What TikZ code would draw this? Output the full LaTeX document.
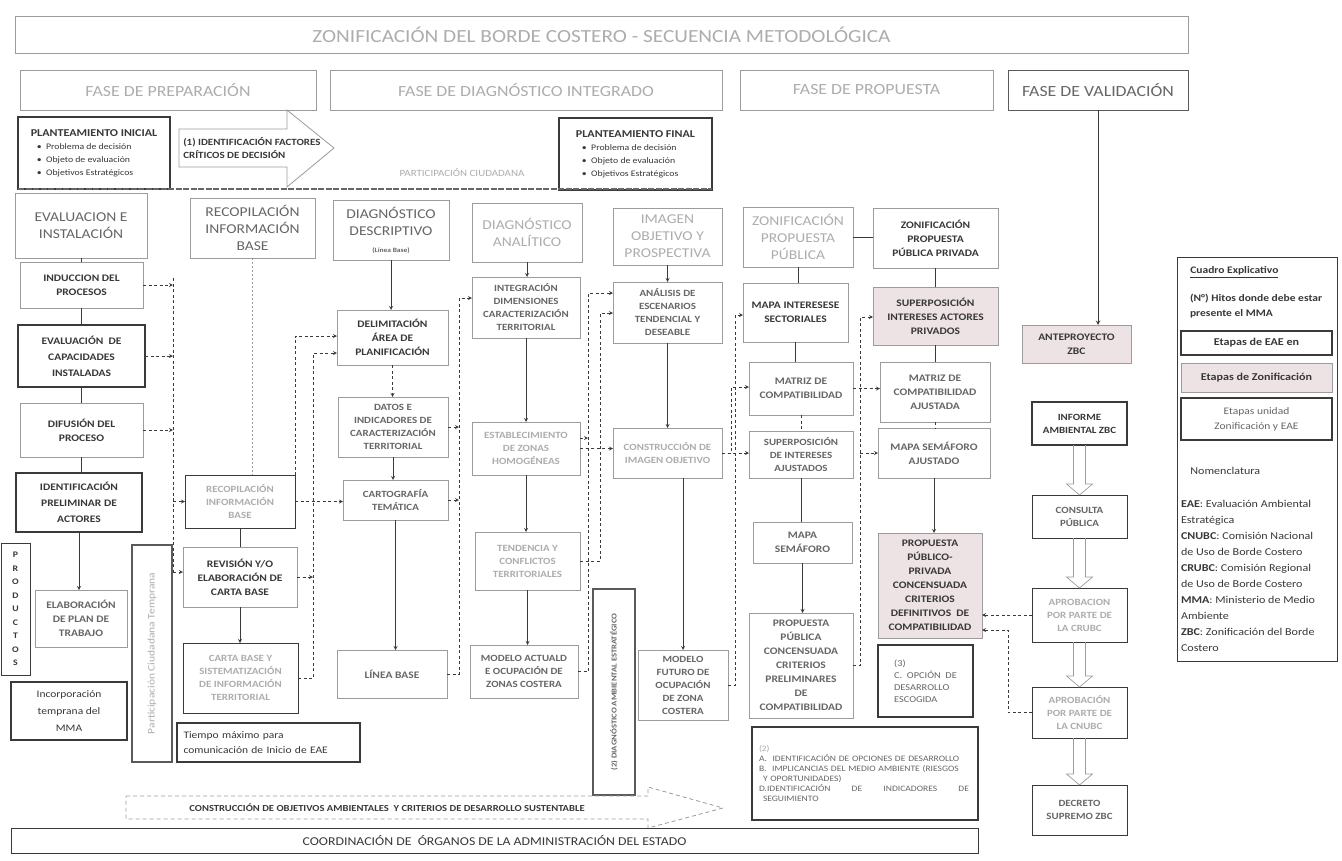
\documentclass[tikz,border=0pt]{standalone}
\usepackage{fontspec}
\setmainfont{Carlito}[FakeStretch=1.15]
\usepackage{tikz}
\usetikzlibrary{arrows, positioning, calc}

\definecolor{linegray}{HTML}{9C9C9C}
\definecolor{midline}{HTML}{5A5A5A}
\definecolor{darkline}{HTML}{3A3A3A}
\definecolor{txtdark}{HTML}{383838}
\definecolor{txtmid}{HTML}{666666}
\definecolor{txtlight}{HTML}{ADADAD}
\definecolor{zonpink}{HTML}{EDE3E5}

\newcommand{\bxfont}{\fontsize{10}{14}\selectfont\bfseries}
\newcommand{\smbxfont}{\fontsize{9.5}{13}\selectfont\bfseries}
\newcommand{\hdfont}{\fontsize{13.5}{17}\selectfont}
\newcommand{\ttlfont}{\fontsize{18.5}{22}\selectfont}
\newcommand{\phfont}{\fontsize{15.5}{18}\selectfont}
\newcommand{\lgfont}{\fontsize{10.5}{16}\selectfont}

\begin{document}
\begin{tikzpicture}[x=1pt, y=-1pt, node distance=1pt, outer sep=0pt]

\tikzstyle{box}=[rectangle,draw=linegray,line width=0.6pt,anchor=north west,align=center,inner sep=2pt,text=txtdark,font=\bxfont]
\tikzstyle{eaebox}=[box,draw=darkline,line width=1.1pt]
\tikzstyle{zonbox}=[box,fill=zonpink]
\tikzstyle{headbox}=[box,font=\hdfont,text=txtmid]
\tikzstyle{phasebox}=[box,font=\phfont,text=txtlight,minimum height=40pt]
\tikzstyle{link}=[draw=darkline,line width=0.8pt]
\tikzstyle{arr}=[link,->,>=stealth]
\tikzstyle{dashlink}=[link,dash pattern=on 3pt off 2.5pt]
\tikzstyle{dasharr}=[dashlink,->,>=stealth]
\tikzstyle{hollow}=[draw=linegray,line width=0.7pt]

\fill[white] (0,0) rectangle (1342,860);
\useasboundingbox (0,0) rectangle (1342,860);

% title and phases
\node[box,minimum width=1173pt,minimum height=37pt,font=\ttlfont,text=txtlight] (title) at (15,16) {ZONIFICACIÓN DEL BORDE COSTERO - SECUENCIA METODOLÓGICA};
\node[phasebox,minimum width=296pt] (fprep) at (20,70) {FASE DE PREPARACIÓN};
\node[phasebox,minimum width=392pt] (fdiag) at (330,70) {FASE DE DIAGNÓSTICO INTEGRADO};
\node[phasebox,minimum width=253pt] (fprop) at (740,70) {FASE DE PROPUESTA};
\node[phasebox,minimum width=180pt,draw=midline,line width=1pt,text=txtmid] (fval) at (1008,70) {FASE DE VALIDACIÓN};

% planteamientos
\node[eaebox,align=left,minimum width=152pt,minimum height=72pt,font=\fontsize{8.5}{13}\selectfont] (pini) at (18,117) {{\bfseries\fontsize{10.5}{13}\selectfont PLANTEAMIENTO INICIAL}\\\hspace*{6pt}\textbullet\ \ Problema de decisión\\\hspace*{6pt}\textbullet\ \ Objeto de evaluación\\\hspace*{6pt}\textbullet\ \ Objetivos Estratégicos};
\node[eaebox,align=left,minimum width=153pt,minimum height=72pt,font=\fontsize{8.5}{13}\selectfont] (pfin) at (559,118) {{\bfseries\fontsize{10.5}{13}\selectfont PLANTEAMIENTO FINAL}\\\hspace*{6pt}\textbullet\ \ Problema de decisión\\\hspace*{6pt}\textbullet\ \ Objeto de evaluación\\\hspace*{6pt}\textbullet\ \ Objetivos Estratégicos};
\draw[draw=linegray,line width=0.8pt,fill=white] (179,129) -- (287,129) -- (287,110) -- (334,148) -- (287,187) -- (287,167) -- (179,167) -- cycle;
\node[anchor=west,align=left,font=\fontsize{9.5}{13}\selectfont\bfseries,text=txtdark] (ident) at (180,148) {(1) IDENTIFICACIÓN FACTORES\\CRÍTICOS DE DECISIÓN};
\node[font=\fontsize{9.5}{12}\selectfont,text=txtlight] (partic) at (462,173) {PARTICIPACIÓN CIUDADANA};
\draw[draw=txtmid,line width=1.2pt,dash pattern=on 6pt off 1.5pt] (pini.south west) -- (pini.south west -| pfin.east);

% evaluacion e instalacion
\node[headbox,minimum width=132pt,minimum height=65pt] (evalinst) at (15,193) {EVALUACION E\\INSTALACIÓN};
\node[box,minimum width=123pt,minimum height=46pt] (induc) at (20,262) {INDUCCION DEL\\PROCESOS};
\node[eaebox,minimum width=127pt,minimum height=62pt,font=\fontsize{10}{16}\selectfont\bfseries] (capac) at (18,325) {EVALUACIÓN\ \ DE\\CAPACIDADES\\INSTALADAS};
\node[box,minimum width=123pt,minimum height=54pt] (difus) at (20,403) {DIFUSIÓN DEL\\PROCESO};
\node[eaebox,minimum width=126pt,minimum height=59pt,font=\fontsize{10}{16}\selectfont\bfseries] (actores) at (16,473) {IDENTIFICACIÓN\\PRELIMINAR DE\\ACTORES};
\node[box,minimum width=92pt,minimum height=57pt,text=txtmid] (plan) at (35,590) {ELABORACIÓN\\DE PLAN DE\\TRABAJO};
\node[eaebox,line width=0.9pt,minimum width=29pt,minimum height=132pt,font=\fontsize{8.5}{13.5}\selectfont\bfseries] (produc) at (1,543) {P\\R\\O\\D\\U\\C\\T\\O\\S};
\node[eaebox,minimum width=116pt,minimum height=58pt,font=\fontsize{10}{17}\selectfont] (mma) at (11,682) {Incorporación\\temprana del\\MMA};
\node[eaebox,draw=midline,line width=1.6pt,minimum width=40pt,minimum height=217pt] (pct) at (132,545) {};
\node[rotate=90,font=\fontsize{10}{12}\selectfont,text=txtlight] (pcttext) at (pct.center) {Participación Ciudadana Temprana};

% recopilacion
\node[headbox,minimum width=125pt,minimum height=60pt] (recop1) at (190,198) {RECOPILACIÓN\\INFORMACIÓN\\BASE};
\node[eaebox,line width=0.9pt,minimum width=110pt,minimum height=53pt,text=txtlight,font=\smbxfont] (recop2) at (185,475) {RECOPILACIÓN\\INFORMACIÓN\\BASE};
\node[box,minimum width=114pt,minimum height=60pt] (revision) at (183,547) {REVISIÓN Y/O\\ELABORACIÓN DE\\CARTA BASE};
\node[eaebox,line width=0.9pt,minimum width=115pt,minimum height=70pt,text=txtlight,font=\smbxfont] (cartab) at (183,643) {CARTA BASE Y\\SISTEMATIZACIÓN\\DE INFORMACIÓN\\TERRITORIAL};
\node[eaebox,align=left,text width=170pt,minimum width=183pt,minimum height=39pt,font=\fontsize{10}{15}\selectfont] (tiempo) at (177,723) {Tiempo máximo para\\comunicación de Inicio de EAE};

% diagnostico descriptivo
\node[headbox,minimum width=116pt,minimum height=60pt] (descrip) at (333,200) {DIAGNÓSTICO\\DESCRIPTIVO\\{\bfseries\fontsize{6.5}{8}\selectfont (Línea Base)}};
\node[box,minimum width=111pt,minimum height=55pt] (delim) at (337,310) {DELIMITACIÓN\\ÁREA DE\\PLANIFICACIÓN};
\node[box,minimum width=110pt,minimum height=60pt,text=txtmid,font=\smbxfont] (datos) at (338,397) {DATOS E\\INDICADORES DE\\CARACTERIZACIÓN\\TERRITORIAL};
\node[box,minimum width=105pt,minimum height=40pt,text=txtmid,font=\smbxfont] (carto) at (343,480) {CARTOGRAFÍA\\TEMÁTICA};
\node[box,minimum width=110pt,minimum height=48pt,text=txtmid] (lbase) at (337,650) {LÍNEA BASE};

% diagnostico analitico
\node[headbox,minimum width=110pt,minimum height=59pt,text=txtlight] (analit) at (472,203) {DIAGNÓSTICO\\ANALÍTICO};
\node[box,minimum width=108pt,minimum height=61pt,text=txtmid,font=\smbxfont] (integ) at (472,277) {INTEGRACIÓN\\DIMENSIONES\\CARACTERIZACIÓN\\TERRITORIAL};
\node[box,minimum width=108pt,minimum height=53pt,text=txtlight,font=\smbxfont] (estab) at (472,422) {ESTABLECIMIENTO\\DE ZONAS\\HOMOGÉNEAS};
\node[box,minimum width=105pt,minimum height=58pt,text=txtlight,font=\smbxfont] (tend) at (475,532) {TENDENCIA Y\\CONFLICTOS\\TERRITORIALES};
\node[box,minimum width=108pt,minimum height=53pt,text=txtmid,font=\smbxfont] (mact) at (470,645) {MODELO ACTUALD\\E OCUPACIÓN DE\\ZONAS COSTERA};

% imagen objetivo
\node[headbox,minimum width=109pt,minimum height=57pt,text=txtlight] (imagen) at (613,208) {IMAGEN\\OBJETIVO Y\\PROSPECTIVA};
\node[box,minimum width=109pt,minimum height=61pt,text=txtmid,font=\smbxfont] (anal) at (613,282) {ANÁLISIS DE\\ESCENARIOS\\TENDENCIAL Y\\DESEABLE};
\node[box,minimum width=109pt,minimum height=50pt,text=txtlight,font=\smbxfont] (constr) at (613,428) {CONSTRUCCIÓN DE\\IMAGEN OBJETIVO};
\node[box,minimum width=90pt,minimum height=70pt,text=txtmid,font=\smbxfont] (mfut) at (638,650) {MODELO\\FUTURO DE\\OCUPACIÓN\\DE ZONA\\COSTERA};
\node[eaebox,draw=midline,line width=1.6pt,minimum width=42pt,minimum height=206pt] (dae) at (593,589) {};
\node[rotate=90,font=\fontsize{7.5}{10}\selectfont\bfseries,text=txtmid] (daetext) at (dae.center) {(2) DIAGNÓSTICO AMBIENTAL ESTRATÉGICO};

% zonificacion propuesta publica
\node[headbox,minimum width=110pt,minimum height=60pt,text=txtlight] (zpp) at (743,207) {ZONIFICACIÓN\\PROPUESTA\\PÚBLICA};
\node[box,minimum width=105pt,minimum height=59pt] (mapaint) at (743,283) {MAPA INTERESESE\\SECTORIALES};
\node[box,minimum width=104pt,minimum height=53pt,text=txtmid] (matriz) at (749,362) {MATRIZ DE\\COMPATIBILIDAD};
\node[box,minimum width=104pt,minimum height=47pt,text=txtmid,font=\smbxfont] (superp) at (749,431) {SUPERPOSICIÓN\\DE INTERESES\\AJUSTADOS};
\node[box,minimum width=99pt,minimum height=41pt,text=txtmid] (semaf) at (753,522) {MAPA\\SEMÁFORO};
\node[box,minimum width=104pt,minimum height=105pt,text=txtmid] (ppub) at (749,613) {PROPUESTA\\PÚBLICA\\CONCENSUADA\\CRITERIOS\\PRELIMINARES\\DE\\COMPATIBILIDAD};

% zonificacion propuesta publica privada
\node[box,minimum width=125pt,minimum height=60pt] (zpriv) at (873,208) {ZONIFICACIÓN\\PROPUESTA\\PÚBLICA PRIVADA};
\node[zonbox,minimum width=125pt,minimum height=58pt] (supact) at (873,287) {SUPERPOSICIÓN\\INTERESES ACTORES\\PRIVADOS};
\node[box,minimum width=110pt,minimum height=60pt,text=txtmid] (majust) at (880,362) {MATRIZ DE\\COMPATIBILIDAD\\AJUSTADA};
\node[box,minimum width=112pt,minimum height=50pt,text=txtmid] (semaj) at (878,428) {MAPA SEMÁFORO\\AJUSTADO};
\node[zonbox,minimum width=104pt,minimum height=105pt] (ppriv) at (878,533) {PROPUESTA\\PÚBLICO-\\PRIVADA\\CONCENSUADA\\CRITERIOS\\DEFINITIVOS\ \ DE\\COMPATIBILIDAD};
\node[eaebox,align=left,minimum width=95pt,minimum height=72pt,font=\fontsize{9}{12}\selectfont,text=txtmid] (opcion) at (878,645) {(3)\\C.\ \ OPCIÓN\ \ DE\\DESARROLLO\\ESCOGIDA};
\node[eaebox,align=left,text width=212pt,minimum width=226pt,minimum height=93pt,font=\fontsize{8.3}{10}\selectfont,text=txtmid] (lista) at (752,727) {{\color{txtlight}(2)}\\A.\ \ IDENTIFICACIÓN DE OPCIONES DE DESARROLLO\\B.\ \ IMPLICANCIAS DEL MEDIO AMBIENTE (RIESGOS\\\hspace*{4pt}Y OPORTUNIDADES)\\\makebox[210pt][l]{D.IDENTIFICACIÓN\hfill DE\hfill INDICADORES\hfill DE}\\\hspace*{4pt}SEGUIMIENTO};

% validacion
\node[zonbox,minimum width=109pt,minimum height=38pt] (antep) at (1022,325) {ANTEPROYECTO\\ZBC};
\node[eaebox,minimum width=95pt,minimum height=43pt,font=\smbxfont] (informe) at (1032,402) {INFORME\\AMBIENTAL ZBC};
\node[eaebox,line width=0.9pt,minimum width=95pt,minimum height=43pt,text=txtmid,font=\smbxfont] (consulta) at (1032,495) {CONSULTA\\PÚBLICA};
\node[eaebox,line width=0.9pt,minimum width=95pt,minimum height=54pt,text=txtlight,font=\smbxfont] (crubc) at (1032,588) {APROBACION\\POR PARTE DE\\LA CRUBC};
\node[eaebox,line width=0.9pt,minimum width=95pt,minimum height=51pt,text=txtlight,font=\smbxfont] (cnubc) at (1032,687) {APROBACIÓN\\POR PARTE DE\\LA CNUBC};
\node[eaebox,line width=0.9pt,minimum width=95pt,minimum height=50pt,text=txtmid,font=\smbxfont] (decreto) at (1032,785) {DECRETO\\SUPREMO ZBC};

% bottom
\draw[draw=linegray,line width=0.8pt,dash pattern=on 4pt off 3pt] (126,796) -- (648,796) -- (648,787) -- (723,808) -- (648,828) -- (648,819) -- (126,819) -- cycle;
\node[font=\fontsize{9.2}{12}\selectfont\bfseries,text=txtdark] (objamb) at (387,807.5) {CONSTRUCCIÓN DE OBJETIVOS AMBIENTALES\ \ Y CRITERIOS DE DESARROLLO SUSTENTABLE};
\node[eaebox,line width=1pt,minimum width=967pt,minimum height=25pt,font=\fontsize{12}{15}\selectfont] (coord) at (11,828) {COORDINACIÓN DE\ \ ÓRGANOS DE LA ADMINISTRACIÓN DEL ESTADO};

% cuadro explicativo
\node[eaebox,line width=0.9pt,minimum width=160pt,minimum height=404pt] (legend) at (1177,257) {};
\node[anchor=west,font=\fontsize{10}{13}\selectfont\bfseries,text=txtdark] (lgtitle) at (1187,272) {\underline{Cuadro Explicativo}};
\node[anchor=north west,align=left,font=\fontsize{10}{15}\selectfont\bfseries,text=txtdark,inner sep=0pt] (lghitos) at (1190,294) {(N°) Hitos donde debe estar\\presente el MMA};
\node[eaebox,minimum width=151pt,minimum height=24pt,font=\lgfont\bfseries] (lgeae) at (1181,331) {Etapas de EAE en};
\node[zonbox,minimum width=151pt,minimum height=29pt,font=\lgfont\bfseries] (lgzon) at (1181,363) {Etapas de Zonificación};
\node[eaebox,minimum width=151pt,minimum height=42pt,font=\fontsize{10}{15}\selectfont,text=txtmid] (lgunid) at (1181,398) {Etapas unidad\\Zonificación y EAE};
\node[anchor=west,font=\lgfont,text=txtdark] (lgnom) at (1187,471) {Nomenclatura};
\node[anchor=north west,align=left,font=\lgfont,text=txtdark,inner sep=0pt] (lgdefs) at (1181,500) {\textbf{EAE}: Evaluación Ambiental\\Estratégica\\\textbf{CNUBC}: Comisión Nacional\\de Uso de Borde Costero\\\textbf{CRUBC}: Comisión Regional\\de Uso de Borde Costero\\\textbf{MMA}: Ministerio de Medio\\Ambiente\\\textbf{ZBC}: Zonificación del Borde\\Costero};

% connectors
\draw[link] (evalinst.south) -- (evalinst.south |- induc.north);
\draw[link] (induc.south) -- (induc.south |- capac.north);
\draw[link] (capac.south) -- (capac.south |- difus.north);
\draw[link] (difus.south) -- (difus.south |- actores.north);
\draw[arr] (actores.south) -- (actores.south |- plan.north);

\coordinate (v1top) at (173,278);
\coordinate (v1bot) at (173,572);
\draw[dashlink] (v1top) -- (v1bot);
\draw[dasharr] (induc.east) -- (induc.east -| v1top);
\draw[dasharr] (capac.east) -- (capac.east -| v1top);
\draw[dasharr] (difus.east) -- (difus.east -| v1top);
\draw[dasharr] (v1top |- recop2.west) -- (recop2.west);
\draw[dasharr] (v1bot) -- (v1bot -| revision.west);

\draw[draw=linegray,line width=0.8pt,dash pattern=on 2pt off 2pt] (recop1.south) -- (recop1.south |- recop2.north);
\draw[link] (recop2.south) -- (recop2.south |- revision.north);
\draw[arr] (revision.south) -- (revision.south |- cartab.north);

\coordinate (c23a) at (295,336);
\coordinate (c23b) at (313,353);
\draw[dasharr] (recop2.north east) -- (c23a) -- (c23a -| delim.west);
\draw[dasharr] (cartab.east) -| (c23b) -- (c23b -| delim.west);
\draw[dasharr] (revision.east) -- (revision.east -| c23b);
\draw[dasharr] (recop2.east) -- (recop2.east -| carto.west);

\draw[arr] (descrip.south) -- (descrip.south |- delim.north);
\draw[dasharr] (delim.south) -- (delim.south |- datos.north);
\draw[arr] (datos.south) -- (datos.south |- carto.north);
\draw[arr] (carto.south) -- (carto.south |- lbase.north);

\coordinate (c34) at (459,298);
\draw[dasharr] (lbase.east) -| (c34) -- (c34 -| integ.west);
\draw[dasharr] (datos.east) -- (datos.east -| c34);
\draw[dasharr] (carto.east) -- (carto.east -| c34);

\draw[arr] (analit.south) -- (analit.south |- integ.north);
\draw[arr] (integ.south) -- (integ.south |- estab.north);
\draw[arr] (estab.south) -- (estab.south |- tend.north);
\draw[arr] (tend.south) -- (tend.south |- mact.north);

\coordinate (c45a) at (588,293);
\coordinate (c45b) at (600,313);
\coordinate (c45c) at (588,438);
\draw[dasharr] (mact.east) -| (c45a) -- (c45a -| anal.west);
\draw[dasharr] (tend.east) -| (c45b) -- (c45b -| anal.west);
\draw[dasharr] (estab.east |- c45c) -- (c45c);
\draw[dasharr] (estab.east) -- (estab.east -| constr.west);

\draw[arr] (imagen.south) -- (imagen.south |- anal.north);
\draw[arr] (anal.south) -- (anal.south |- constr.north);
\draw[arr] (constr.south -| mfut.north) -- (mfut.north);

\coordinate (c56a) at (735,315);
\coordinate (c56b) at (731,387);
\draw[dasharr] (mfut.east) -| (c56a) -- (c56a -| mapaint.west);
\draw[dasharr] (constr.east) -| (c56b) -- (c56b -| matriz.west);
\draw[dasharr] (constr.east) -- (constr.east -| superp.west);

\draw[link] (zpp.south) -- (zpp.south |- mapaint.north);
\draw[link] (mapaint.south) -- (mapaint.south |- matriz.north);
\draw[dashlink] (matriz.south) -- (matriz.south |- superp.north);
\draw[link] (superp.south) -- (superp.south |- semaf.north);
\draw[arr] (semaf.south) -- (semaf.south |- ppub.north);
\draw[link] (zpp.east) -- (zpp.east -| zpriv.west);

\coordinate (c67) at (860,317);
\draw[dasharr] (ppub.east) -| (c67) -- (c67 -| supact.west);
\draw[dasharr] (matriz.east) -- (matriz.east -| majust.west);
\draw[dasharr] (c67 |- semaj.west) -- (semaj.west);

\draw[link] (zpriv.south) -- (zpriv.south |- supact.north);
\draw[link] (supact.south) -- (supact.south |- majust.north);
\draw[dashlink] (majust.south) -- (majust.south |- semaj.north);
\draw[arr] (semaj.south) -- (semaj.south |- ppriv.north);

\draw[arr,line width=1pt] (fval.south) -- (fval.south |- antep.north);
\draw[hollow] ($(informe.south)+(-6,0)$) -- ($(consulta.north)+(-6,-11)$) -- ($(consulta.north)+(-13,-11)$) -- (consulta.north) -- ($(consulta.north)+(13,-11)$) -- ($(consulta.north)+(6,-11)$) -- ($(informe.south)+(6,0)$);
\draw[hollow] ($(consulta.south)+(-6,0)$) -- ($(crubc.north)+(-6,-11)$) -- ($(crubc.north)+(-13,-11)$) -- (crubc.north) -- ($(crubc.north)+(13,-11)$) -- ($(crubc.north)+(6,-11)$) -- ($(consulta.south)+(6,0)$);
\draw[hollow] ($(crubc.south)+(-6,0)$) -- ($(cnubc.north)+(-6,-11)$) -- ($(cnubc.north)+(-13,-11)$) -- (cnubc.north) -- ($(cnubc.north)+(13,-11)$) -- ($(cnubc.north)+(6,-11)$) -- ($(crubc.south)+(6,0)$);
\draw[hollow] ($(cnubc.south)+(-6,0)$) -- ($(decreto.north)+(-6,-11)$) -- ($(decreto.north)+(-13,-11)$) -- (decreto.north) -- ($(decreto.north)+(13,-11)$) -- ($(decreto.north)+(6,-11)$) -- ($(cnubc.south)+(6,0)$);

\coordinate (c78) at (1008,630);
\draw[dasharr] (crubc.west) -- (crubc.west -| ppriv.east);
\draw[dasharr] (cnubc.west) -| (c78) -- (c78 -| ppriv.east);

\end{tikzpicture}
\end{document}
